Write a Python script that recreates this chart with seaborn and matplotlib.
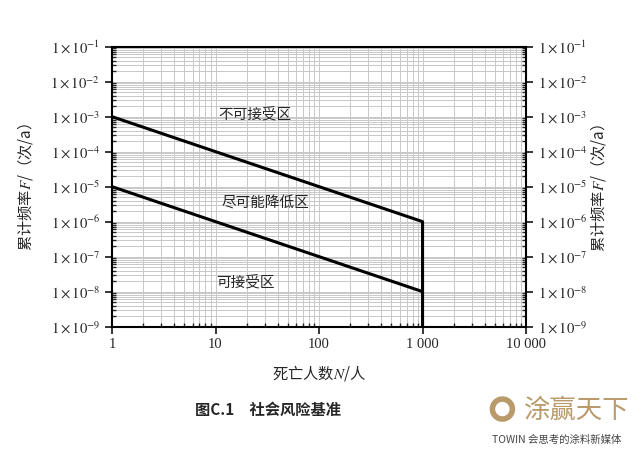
import numpy as np
import pandas as pd
import matplotlib
import matplotlib.pyplot as plt
import matplotlib.ticker as mticker
from matplotlib.patches import Ellipse
import seaborn as sns

sns.set_style('white')
plt.rcParams['font.family'] = ['Liberation Serif', 'Noto Sans CJK SC', 'DejaVu Sans']
plt.rcParams['mathtext.fontset'] = 'stix'

# limit lines (social risk criterion)
n_upper = [1, 1000, 1000]
f_upper = [1e-3, 1e-6, 1e-9]
n_lower = [1, 1000]
f_lower = [1e-5, 1e-8]

x_ticks = [1, 10, 100, 1000, 10000]
x_labels = ['1', '10', '100', '1 000', '10 000']
y_ticks = [1e-9, 1e-8, 1e-7, 1e-6, 1e-5, 1e-4, 1e-3, 1e-2, 1e-1]
y_labels = [r'$1\times10^{-%d}$' % k for k in range(9, 0, -1)]

zones = ['不可接受区', '尽可能降低区', '可接受区']
zone_x = [24, 30, 19.5]
zone_y = [1.2e-3, 3.4e-6, 1.8e-8]

cjk = ['Noto Sans CJK SC', 'DejaVu Sans']

fig = plt.figure(figsize=(6.4, 4.53), dpi=100)
ax = fig.add_axes([0.175, 0.279, 0.647, 0.618])

upper = pd.DataFrame({'N': n_upper, 'F': f_upper})
lower = pd.DataFrame({'N': n_lower, 'F': f_lower})
sns.lineplot(data=upper, x='N', y='F', sort=False, estimator=None, color='black', lw=2.2, ax=ax)
sns.lineplot(data=lower, x='N', y='F', sort=False, estimator=None, color='black', lw=2.2, ax=ax)

ax.set_xscale('log')
ax.set_yscale('log')
ax.set_xlim(1, 10000)
ax.set_ylim(1e-9, 1e-1)

ax.set_xticks(x_ticks)
ax.set_xticklabels(x_labels)
ax.set_yticks(y_ticks)
ax.set_yticklabels(y_labels)
ax.xaxis.set_minor_locator(mticker.LogLocator(base=10, subs=np.arange(2, 10), numticks=20))
ax.yaxis.set_minor_locator(mticker.LogLocator(base=10, subs=np.arange(2, 10), numticks=20))
ax.xaxis.set_minor_formatter(mticker.NullFormatter())
ax.yaxis.set_minor_formatter(mticker.NullFormatter())

ax.grid(True, which='both', color='#c8c8c8', lw=0.7)
ax.set_axisbelow(True)
ax.tick_params(which='major', direction='out', length=5, width=1.3, labelsize=10.5,
               left=True, right=True, bottom=True, labelright=True)
ax.tick_params(which='minor', direction='in', length=3, width=1, left=True, right=True, bottom=True)
for s in ax.spines.values():
    s.set_linewidth(1.5)
    s.set_color('black')

ax.set_xlabel('死亡人数$\\it{N}$/人', fontsize=11, labelpad=8, family=cjk)
ax.set_ylabel('累计频率$\\it{F}$/（次/a）', fontsize=11, family=cjk)
ax.yaxis.set_label_coords(-0.187, 0.5)
fig.text(0.935, 0.585, '累计频率$\\it{F}$/（次/a）', rotation=90, fontsize=11,
         ha='center', va='center', family=cjk)

for t, x, y in zip(zones, zone_x, zone_y):
    ax.text(x, y, t, ha='center', va='center', fontsize=10.5, family=cjk)

fig.text(0.418, 0.095, '图C.1　社会风险基准', ha='center', va='center', fontsize=11,
         fontweight='bold', family=cjk)

# watermark
fig.patches.append(Ellipse((0.785, 0.097), 0.044 * 453 / 640, 0.044, transform=fig.transFigure,
                           fill=False, ec='#b99a6a', lw=4))
fig.text(0.9, 0.095, '涂赢天下', ha='center', va='center', fontsize=19,
         color='#b99a6a', family=cjk)
fig.text(0.87, 0.03, 'TOWIN 会思考的涂料新媒体', ha='center', va='center', fontsize=7.5,
         color='#444444', family=cjk)

plt.savefig('out.png', dpi=100)
